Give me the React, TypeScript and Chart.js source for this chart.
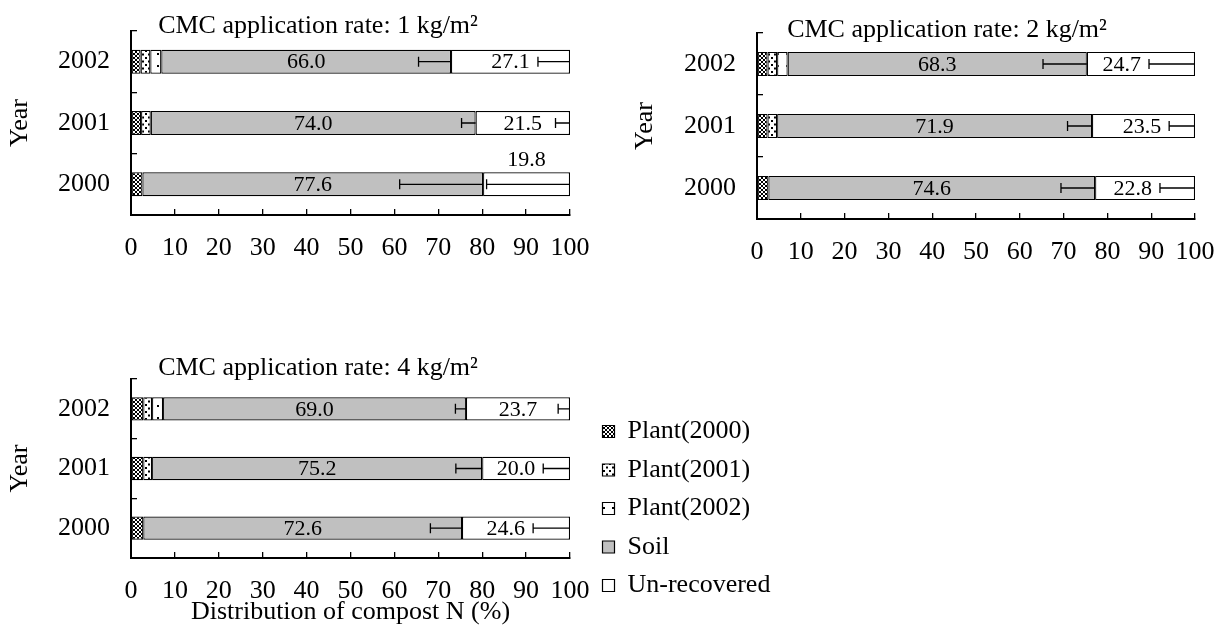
import React, { useEffect, useRef } from 'react';
import { Chart, registerables } from 'chart.js';
Chart.register(...registerables);

// ---------- data ----------
const years = ['2002', '2001', '2000'];
const seriesNames = ['Plant(2000)', 'Plant(2001)', 'Plant(2002)', 'Soil', 'Un-recovered'];

// Panel 1: CMC 1 kg/m2
const p1Plant2000 = [2.2, 2.3, 2.6];
const p1Plant2001 = [2.2, 2.2, null];
const p1Plant2002 = [2.5, null, null];
const p1Soil = [66.0, 74.0, 77.6];
const p1Unrec = [27.1, 21.5, 19.8];
const p1SoilErr = [7.4, 3.2, 19.0];
const p1UnrecErr = [7.3, 3.3, 19.0];

// Panel 2: CMC 2 kg/m2
const p2Plant2000 = [2.4, 2.4, 2.6];
const p2Plant2001 = [2.2, 2.2, null];
const p2Plant2002 = [2.4, null, null];
const p2Soil = [68.3, 71.9, 74.6];
const p2Unrec = [24.7, 23.5, 22.8];
const p2SoilErr = [10.0, 5.6, 7.8];
const p2UnrecErr = [10.5, 5.9, 8.0];

// Panel 3: CMC 4 kg/m2
const p3Plant2000 = [2.8, 2.8, 2.8];
const p3Plant2001 = [2.0, 2.0, null];
const p3Plant2002 = [2.5, null, null];
const p3Soil = [69.0, 75.2, 72.6];
const p3Unrec = [23.7, 20.0, 24.6];
const p3SoilErr = [2.4, 6.0, 7.2];
const p3UnrecErr = [2.7, 6.1, 8.4];

const xMin = 0;
const xMax = 100;
const xStep = 10;

const FONT = 'Liberation Serif';
Chart.defaults.font.family = FONT;
Chart.defaults.color = '#000';

function makeFills() {
  const mk = (w: number, h: number, draw: (g: CanvasRenderingContext2D) => void) => {
    const c = document.createElement('canvas');
    c.width = w;
    c.height = h;
    const g = c.getContext('2d')!;
    g.fillStyle = '#fff';
    g.fillRect(0, 0, w, h);
    g.fillStyle = '#000';
    draw(g);
    return g.createPattern(c, 'repeat')!;
  };
  const dense = mk(4, 4, (g) => {
    [[0, 0], [1, 1], [2, 2], [3, 3], [3, 0], [2, 1], [1, 2], [0, 3]].forEach(([x, y]) => g.fillRect(x, y, 1, 1));
  });
  const dots = mk(6, 7, (g) => {
    g.fillRect(1, 1, 2, 2);
    g.fillRect(4, 4.5, 2, 2);
  });
  const sparse = mk(9, 12, (g) => {
    g.fillRect(4, 5, 2, 2);
  });
  return [dense, dots, sparse, '#c0c0c0', '#ffffff'];
}

type Panel = {
  title: string;
  values: (number | null)[][];
  soilErr: number[];
  unrecErr: number[];
  left: number; top: number; height: number;
  axisLeft: number; axisRight: number; areaTop: number; areaBottom: number;
  titleCenterX: number; titleCenterY: number; yTitleX: number;
  xTitle: boolean;
};

const panels: Panel[] = [
  {
    title: 'CMC application rate: 1 kg/m²',
    values: [p1Plant2000, p1Plant2001, p1Plant2002, p1Soil, p1Unrec],
    soilErr: p1SoilErr, unrecErr: p1UnrecErr,
    left: 0, top: 0, height: 280,
    axisLeft: 131, axisRight: 570, areaTop: 31, areaBottom: 215,
    titleCenterX: 318, titleCenterY: 26, yTitleX: 20, xTitle: false,
  },
  {
    title: 'CMC application rate: 2 kg/m²',
    values: [p2Plant2000, p2Plant2001, p2Plant2002, p2Soil, p2Unrec],
    soilErr: p2SoilErr, unrecErr: p2UnrecErr,
    left: 620, top: 0, height: 282,
    axisLeft: 757, axisRight: 1195, areaTop: 33, areaBottom: 219,
    titleCenterX: 947, titleCenterY: 30, yTitleX: 645, xTitle: false,
  },
  {
    title: 'CMC application rate: 4 kg/m²',
    values: [p3Plant2000, p3Plant2001, p3Plant2002, p3Soil, p3Unrec],
    soilErr: p3SoilErr, unrecErr: p3UnrecErr,
    left: 0, top: 340, height: 292,
    axisLeft: 131, axisRight: 570, areaTop: 379, areaBottom: 558,
    titleCenterX: 318, titleCenterY: 368, yTitleX: 20, xTitle: true,
  },
];

const canvasWidth = (p: Panel) => 2 * (p.titleCenterX - p.left);

function overlayPlugin(p: Panel) {
  return {
    id: 'overlay',
    afterDatasetsDraw(chart: any) {
      const ctx: CanvasRenderingContext2D = chart.ctx;
      const xs = chart.scales.x;
      const unit = (v: number) => xs.getPixelForValue(v) - xs.getPixelForValue(0);
      ctx.save();
      ctx.strokeStyle = '#000';
      ctx.lineWidth = 1.3;
      const drawErr = (el: any, err: number) => {
        const x1 = el.x;
        const x0 = el.x - unit(err);
        ctx.beginPath();
        ctx.moveTo(x0, el.y);
        ctx.lineTo(x1, el.y);
        ctx.moveTo(x0, el.y - 5);
        ctx.lineTo(x0, el.y + 5);
        ctx.stroke();
      };
      const soilMeta = chart.getDatasetMeta(3);
      const unMeta = chart.getDatasetMeta(4);
      soilMeta.data.forEach((el: any, i: number) => drawErr(el, p.soilErr[i]));
      unMeta.data.forEach((el: any, i: number) => drawErr(el, p.unrecErr[i]));

      ctx.fillStyle = '#000';
      ctx.font = `22px "${FONT}"`;
      ctx.textAlign = 'center';
      ctx.textBaseline = 'middle';
      const label = (el: any, v: number, err: number) => {
        const text = v.toFixed(1);
        const halfW = ctx.measureText(text).width / 2;
        const above = err / v > 0.6;
        let cx = (el.x + el.base) / 2;
        let cy = el.y;
        if (above) {
          cy = el.y - el.height / 2 - 13;
        } else {
          const whisker = el.x - unit(err);
          cx = Math.min(cx, whisker - 8 - halfW);
        }
        ctx.fillText(text, cx, cy + 1);
      };
      soilMeta.data.forEach((el: any, i: number) => label(el, p.values[3][i] as number, p.soilErr[i]));
      unMeta.data.forEach((el: any, i: number) => label(el, p.values[4][i] as number, p.unrecErr[i]));
      ctx.restore();
    },
  };
}

function makePanel(canvas: HTMLCanvasElement, p: Panel, fills: any[]) {
  const W = canvasWidth(p);
  const padTop = p.titleCenterY - p.top - 13;
  const padBottom = (p.areaTop - p.top) - 26 - padTop;
  const yWidth = p.axisLeft - p.left;
  const rightSpace = p.left + W - p.axisRight;
  const yTitlePad = p.yTitleX - p.left - 13;
  const fontBig = { family: FONT, size: 26, lineHeight: 1 };
  return new Chart(canvas, {
    type: 'bar',
    data: {
      labels: years,
      datasets: seriesNames.map((name, i) => ({
        label: name,
        data: p.values[i],
        backgroundColor: fills[i],
        borderColor: '#000',
        borderWidth: 1.2,
        borderSkipped: false,
        barPercentage: 0.39,
        categoryPercentage: 1,
      })) as any,
    },
    options: {
      indexAxis: 'y',
      responsive: false,
      animation: false,
      events: [],
      layout: { padding: 0 },
      scales: {
        x: {
          type: 'linear',
          min: xMin,
          max: xMax,
          stacked: true,
          position: 'bottom',
          afterFit: (s: any) => {
            s.height = p.top + p.height - p.areaBottom;
            s.paddingLeft = 0;
            s.paddingRight = 0;
          },
          ticks: { stepSize: xStep, autoSkip: false, maxRotation: 0, padding: 26, color: '#000', font: fontBig },
          grid: { drawOnChartArea: false, drawTicks: true, tickLength: -6, color: '#000', lineWidth: 1.3 },
          border: { display: true, color: '#000', width: 2 },
          title: {
            display: p.xTitle,
            text: 'Distribution of compost N (%)',
            color: '#000',
            font: fontBig,
            padding: { top: 0, bottom: 7 },
          },
        },
        y: {
          type: 'category',
          stacked: true,
          afterFit: (s: any) => {
            s.width = yWidth;
            s.paddingTop = 0;
            s.paddingBottom = 0;
          },
          ticks: { padding: 27, color: '#000', font: fontBig },
          grid: { offset: true, drawOnChartArea: false, drawTicks: true, tickLength: -6, color: '#000', lineWidth: 1.3 },
          border: { display: true, color: '#000', width: 2 },
          title: { display: true, text: 'Year', color: '#000', font: fontBig, padding: { top: yTitlePad, bottom: 0 } },
        },
        spacer: {
          type: 'linear',
          position: 'right',
          display: true,
          afterFit: (s: any) => {
            s.width = rightSpace;
            s.paddingTop = 0;
            s.paddingBottom = 0;
          },
          ticks: { display: false },
          grid: { display: false, drawTicks: false },
          border: { display: false },
        },
      },
      plugins: {
        legend: { display: false },
        tooltip: { enabled: false },
        title: {
          display: true,
          text: p.title,
          color: '#000',
          font: { family: FONT, size: 26, lineHeight: 1, weight: 'normal' },
          padding: { top: padTop, bottom: padBottom },
        },
      },
    } as any,
    plugins: [overlayPlugin(p)],
  });
}

function makeLegend(canvas: HTMLCanvasElement, fills: any[]) {
  return new Chart(canvas, {
    type: 'bar',
    data: {
      labels: [],
      datasets: seriesNames.map((name, i) => ({
        label: name,
        data: [],
        backgroundColor: fills[i],
        borderColor: '#000',
        borderWidth: 1.2,
      })) as any,
    },
    options: {
      responsive: false,
      animation: false,
      events: [],
      layout: { padding: 0 },
      scales: { x: { display: false }, y: { display: false } },
      plugins: {
        tooltip: { enabled: false },
        legend: {
          position: 'left',
          align: 'start',
          labels: {
            color: '#000',
            font: { family: FONT, size: 26, lineHeight: 1 },
            boxWidth: 12,
            boxHeight: 12,
            padding: 12.5,
          },
        },
      },
    } as any,
  });
}

export default function App() {
  const r1 = useRef<HTMLCanvasElement>(null);
  const r2 = useRef<HTMLCanvasElement>(null);
  const r3 = useRef<HTMLCanvasElement>(null);
  const rl = useRef<HTMLCanvasElement>(null);
  useEffect(() => {
    document.body.style.margin = '0';
    const fills = makeFills();
    const charts = [
      makePanel(r1.current!, panels[0], fills),
      makePanel(r2.current!, panels[1], fills),
      makePanel(r3.current!, panels[2], fills),
      makeLegend(rl.current!, fills),
    ];
    return () => charts.forEach((c) => c.destroy());
  }, []);
  const refs = [r1, r2, r3];
  return (
    <div style={{ position: 'fixed', left: 0, top: 0, width: 1219, height: 632, overflow: 'hidden', background: '#fff' }}>
      {panels.map((p, i) => (
        <canvas
          key={i}
          ref={refs[i]}
          width={canvasWidth(p)}
          height={p.height}
          style={{ position: 'absolute', left: p.left, top: p.top, width: canvasWidth(p), height: p.height }}
        />
      ))}
      <canvas ref={rl} width={410} height={226} style={{ position: 'absolute', left: 590, top: 406, width: 410, height: 226 }} />
    </div>
  );
}
